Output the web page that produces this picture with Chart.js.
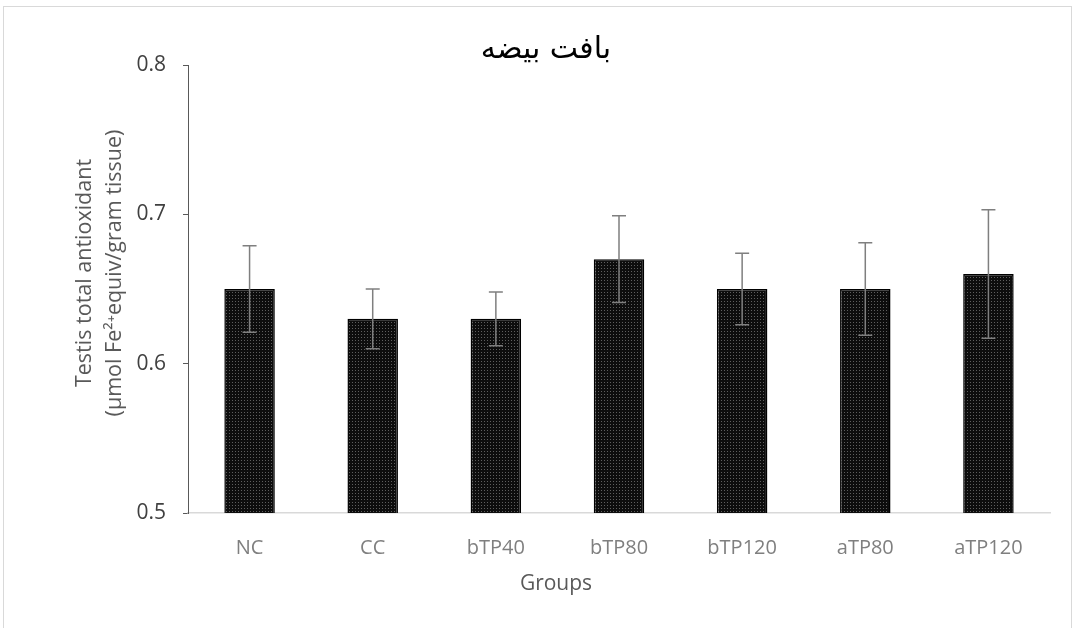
<!DOCTYPE html>
<html>
<head>
<meta charset="utf-8">
<script src="https://cdn.jsdelivr.net/npm/chart.js@4.4.0/dist/chart.umd.min.js"></script>
<style>
  html, body { margin: 0; padding: 0; background: #fff; }
  #wrap { position: relative; width: 1073px; height: 628px; }
</style>
</head>
<body>
<div id="wrap"><canvas id="chart"></canvas></div>
<script>
const GROUPS = ['NC', 'CC', 'bTP40', 'bTP80', 'bTP120', 'aTP80', 'aTP120'];
const MEANS = [0.65, 0.63, 0.63, 0.67, 0.65, 0.65, 0.66];
const ERRORS = [0.029, 0.020, 0.018, 0.029, 0.024, 0.031, 0.043];
const Y_TICKS = [0.5, 0.6, 0.7, 0.8];
const CHART_TITLE = 'بافت بیضه';
const Y_TITLE = ['Testis total antioxidant', '(µmol Fe²⁺equiv/gram tissue)'];
const X_TITLE = 'Groups';

const canvas = document.getElementById('chart');
const ctx = canvas.getContext('2d');

Chart.defaults.font.family = "'Open Sans', sans-serif";

// dotted black fill like the excel pattern
function makePattern() {
  const tile = document.createElement('canvas');
  tile.width = 3;
  tile.height = 3;
  const t = tile.getContext('2d');
  t.fillStyle = '#0d0d0d';
  t.fillRect(0, 0, 3, 3);
  t.fillStyle = '#5e5e5e';
  t.fillRect(1, 1, 1, 1);
  return ctx.createPattern(tile, 'repeat');
}

const errorBars = {
  id: 'errorBars',
  afterDatasetsDraw(chart) {
    const meta = chart.getDatasetMeta(0);
    const yScale = chart.scales.y;
    const c = chart.ctx;
    c.save();
    c.strokeStyle = '#7f7f7f';
    c.lineWidth = 1.5;
    meta.data.forEach((bar, i) => {
      const top = yScale.getPixelForValue(MEANS[i] + ERRORS[i]);
      const bottom = yScale.getPixelForValue(MEANS[i] - ERRORS[i]);
      c.beginPath();
      c.moveTo(bar.x, top);
      c.lineTo(bar.x, bottom);
      c.moveTo(bar.x - 7, top);
      c.lineTo(bar.x + 7, top);
      c.moveTo(bar.x - 7, bottom);
      c.lineTo(bar.x + 7, bottom);
      c.stroke();
    });
    c.restore();
  }
};

// frame, chart title and axis titles placed like the excel export
const frameAndTitles = {
  id: 'frameAndTitles',
  beforeDraw(chart) {
    const c = chart.ctx;
    c.save();
    c.strokeStyle = '#d9d9d9';
    c.lineWidth = 1;
    c.strokeRect(3.5, 6.5, chart.width - 5, chart.height + 10);
    c.restore();
  },
  afterDraw(chart) {
    const c = chart.ctx;
    c.save();
    c.textAlign = 'center';
    c.textBaseline = 'middle';

    c.fillStyle = '#000';
    c.font = "30px 'DejaVu Sans'";
    c.fillText(CHART_TITLE, 546, 50);

    c.fillStyle = '#595959';
    c.font = "21px 'Open Sans'";
    c.fillText(X_TITLE, 556, 584);

    c.translate(85, 273);
    c.rotate(-Math.PI / 2);
    c.font = "21.5px 'Open Sans'";
    Y_TITLE.forEach((line, i) => c.fillText(line, 0, i * 30));
    c.restore();
  }
};

new Chart(canvas, {
  type: 'bar',
  data: {
    labels: GROUPS,
    datasets: [{
      data: MEANS,
      backgroundColor: makePattern(),
      borderColor: '#000',
      borderWidth: 1.5,
      categoryPercentage: 1,
      barPercentage: 0.41
    }]
  },
  options: {
    responsive: true,
    maintainAspectRatio: false,
    animation: false,
    layout: { padding: { top: 65, right: 23, bottom: 0, left: 0 } },
    plugins: {
      legend: { display: false },
      tooltip: { enabled: false }
    },
    scales: {
      x: {
        grid: { display: false },
        border: { color: '#d9d9d9', width: 1.5 },
        ticks: { color: '#7f7f7f', font: { size: 20 }, padding: 15 },
        afterFit: (scale) => { scale.height = 115; }
      },
      y: {
        min: 0.5,
        max: 0.8,
        afterBuildTicks: (scale) => { scale.ticks = Y_TICKS.map((v) => ({ value: v })); },
        grid: { drawOnChartArea: false, drawTicks: true, tickLength: 5, color: '#595959' },
        border: { color: '#595959', width: 1 },
        ticks: {
          color: '#404040',
          font: { size: 21 },
          padding: 17,
          callback: (v) => Number(v).toFixed(1)
        },
        afterFit: (scale) => { scale.width = 188; }
      }
    }
  },
  plugins: [errorBars, frameAndTitles]
});
</script>
</body>
</html>
